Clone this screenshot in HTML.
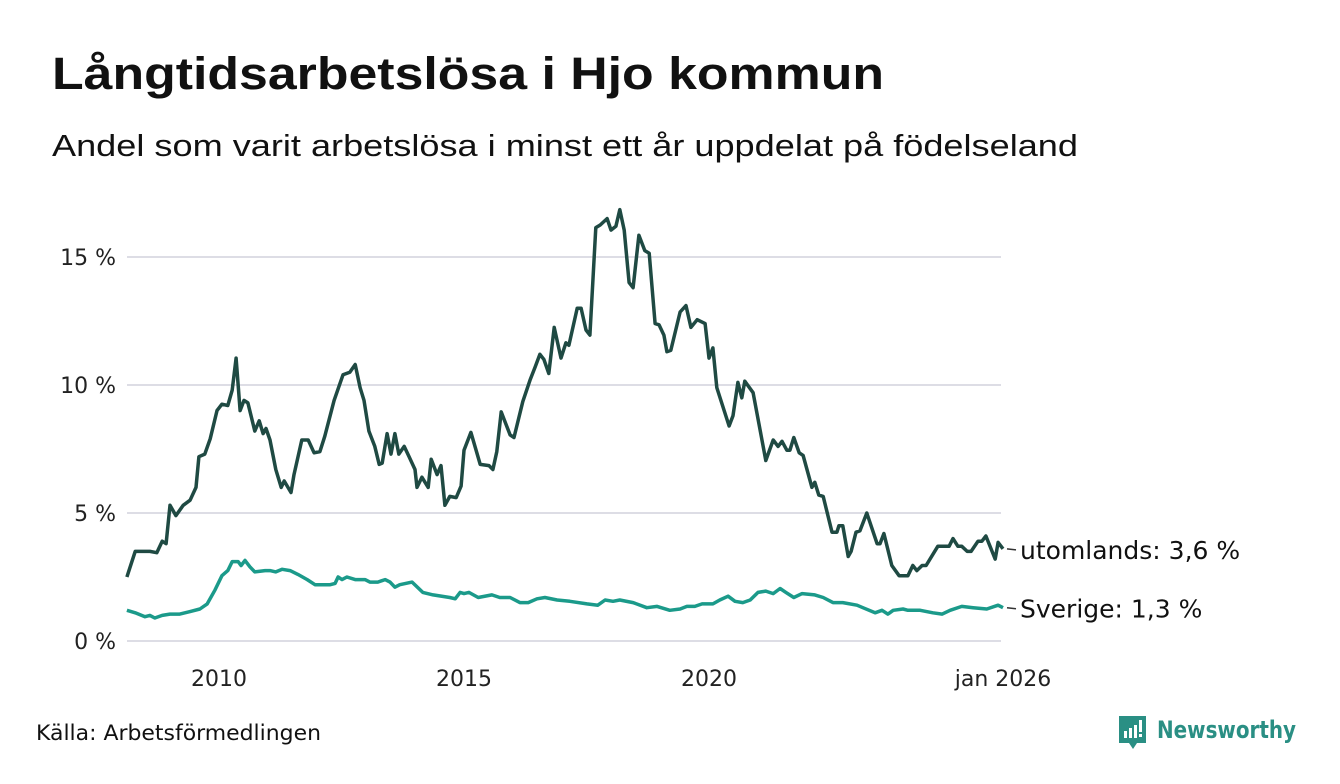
<!DOCTYPE html>
<html><head><meta charset="utf-8"><style>
body{margin:0;background:#fff;width:1340px;height:780px;overflow:hidden;font-family:"DejaVu Sans",sans-serif}
</style></head><body>
<svg width="1340" height="780" font-family="'DejaVu Sans', sans-serif">
<text x="52" y="89" font-size="45" font-weight="bold" fill="#111" textLength="832" lengthAdjust="spacingAndGlyphs" font-family="'Liberation Sans', sans-serif">Långtidsarbetslösa i Hjo kommun</text>
<text x="52" y="156" font-size="31" fill="#111" textLength="1026" lengthAdjust="spacingAndGlyphs" font-family="'Liberation Sans', sans-serif">Andel som varit arbetslösa i minst ett år uppdelat på födelseland</text>
<g id="grid"></g><g id="series"></g><g id="labels"></g>
<text x="36" y="740" font-size="21" fill="#111" textLength="285" lengthAdjust="spacingAndGlyphs">Källa: Arbetsförmedlingen</text>
<g>
<path d="M1119 716h27v27h-9l-4 6-4-6h-10z" fill="#2a8f84"/>
<rect x="1124" y="731" width="3" height="7" fill="#fff"/><rect x="1129" y="728" width="3" height="10" fill="#fff"/><rect x="1134" y="725" width="3" height="13" fill="#fff"/><rect x="1139" y="720" width="3" height="12" fill="#fff"/><rect x="1139" y="734" width="3" height="3" fill="#fff"/>
<text x="1157" y="738" font-size="24" font-weight="bold" fill="#2a8f84" textLength="139" lengthAdjust="spacingAndGlyphs">Newsworthy</text>
</g>
</svg>
<script>
const yTicks=[0,5,10,15];
const yTickLabels=["0 %","5 %","10 %","15 %"];
const xTicks=[2010,2015,2020,2026];
const xTickLabels=["2010","2015","2020","jan 2026"];
const utDates=[2008.12,2008.29,2008.59,2008.73,2008.84,2008.92,2009.00,2009.12,2009.27,2009.41,2009.53,2009.59,2009.71,2009.82,2009.96,2010.06,2010.18,2010.27,2010.35,2010.43,2010.51,2010.59,2010.73,2010.82,2010.90,2010.96,2011.04,2011.16,2011.27,2011.33,2011.47,2011.53,2011.69,2011.82,2011.94,2012.06,2012.16,2012.35,2012.53,2012.67,2012.78,2012.88,2012.96,2013.06,2013.18,2013.27,2013.33,2013.43,2013.51,2013.59,2013.67,2013.78,2013.88,2014.00,2014.04,2014.14,2014.27,2014.33,2014.45,2014.53,2014.61,2014.71,2014.84,2014.94,2015.00,2015.14,2015.33,2015.51,2015.59,2015.67,2015.76,2015.94,2016.02,2016.20,2016.35,2016.45,2016.55,2016.63,2016.73,2016.84,2016.98,2017.08,2017.14,2017.31,2017.39,2017.49,2017.57,2017.69,2017.78,2017.92,2018.00,2018.10,2018.18,2018.27,2018.37,2018.45,2018.57,2018.69,2018.78,2018.90,2018.98,2019.08,2019.14,2019.22,2019.41,2019.53,2019.63,2019.76,2019.92,2020.00,2020.08,2020.16,2020.41,2020.49,2020.59,2020.67,2020.73,2020.90,2021.16,2021.31,2021.41,2021.49,2021.59,2021.65,2021.73,2021.84,2021.92,2022.10,2022.16,2022.24,2022.33,2022.51,2022.61,2022.65,2022.73,2022.84,2022.90,2023.00,2023.08,2023.22,2023.43,2023.49,2023.57,2023.73,2023.88,2024.06,2024.16,2024.24,2024.35,2024.43,2024.67,2024.90,2024.98,2025.08,2025.16,2025.27,2025.35,2025.49,2025.57,2025.65,2025.84,2025.90,2026.00];
const utValues=[2.5,3.5,3.5,3.45,3.9,3.8,5.3,4.9,5.3,5.5,6.0,7.2,7.3,7.9,9.0,9.25,9.2,9.8,11.05,9.0,9.4,9.3,8.2,8.6,8.1,8.3,7.85,6.7,6.0,6.25,5.8,6.5,7.85,7.85,7.35,7.4,8.0,9.4,10.4,10.5,10.8,9.9,9.4,8.2,7.6,6.9,6.95,8.1,7.3,8.1,7.3,7.6,7.2,6.7,6.0,6.4,6.0,7.1,6.5,6.85,5.3,5.65,5.6,6.05,7.45,8.15,6.9,6.85,6.7,7.4,8.95,8.05,7.95,9.35,10.2,10.7,11.2,11.0,10.45,12.25,11.05,11.65,11.55,13.0,13.0,12.15,11.95,16.15,16.25,16.5,16.05,16.2,16.85,16.05,14.0,13.8,15.85,15.25,15.15,12.4,12.35,11.95,11.3,11.35,12.85,13.1,12.25,12.55,12.4,11.05,11.45,9.9,8.4,8.8,10.1,9.5,10.15,9.7,7.05,7.85,7.6,7.8,7.45,7.45,7.95,7.35,7.25,6.0,6.2,5.7,5.65,4.25,4.25,4.5,4.5,3.3,3.5,4.25,4.3,5.0,3.8,3.8,4.2,2.95,2.55,2.55,2.95,2.75,2.95,2.95,3.7,3.7,4.0,3.7,3.7,3.5,3.5,3.9,3.9,4.1,3.2,3.85,3.6];
const svDates=[2008.12,2008.29,2008.49,2008.59,2008.69,2008.84,2009.00,2009.20,2009.41,2009.61,2009.76,2009.92,2010.06,2010.18,2010.27,2010.39,2010.45,2010.53,2010.63,2010.73,2010.94,2011.04,2011.16,2011.29,2011.45,2011.61,2011.80,2011.96,2012.06,2012.27,2012.37,2012.43,2012.51,2012.61,2012.78,2012.98,2013.08,2013.24,2013.39,2013.49,2013.59,2013.69,2013.94,2014.16,2014.37,2014.71,2014.82,2014.92,2015.00,2015.10,2015.29,2015.57,2015.73,2015.94,2016.14,2016.31,2016.49,2016.65,2016.90,2017.16,2017.51,2017.73,2017.88,2018.04,2018.18,2018.45,2018.73,2018.94,2019.20,2019.41,2019.55,2019.71,2019.86,2020.08,2020.22,2020.39,2020.53,2020.69,2020.84,2021.00,2021.16,2021.31,2021.45,2021.57,2021.73,2021.90,2022.16,2022.33,2022.53,2022.73,2023.02,2023.14,2023.39,2023.53,2023.65,2023.76,2023.96,2024.06,2024.31,2024.57,2024.76,2024.92,2025.16,2025.39,2025.67,2025.90,2026.00];
const svValues=[1.2,1.1,0.95,1.0,0.9,1.0,1.05,1.05,1.15,1.25,1.45,2.0,2.55,2.75,3.1,3.1,2.95,3.15,2.9,2.7,2.75,2.75,2.7,2.8,2.75,2.6,2.4,2.2,2.2,2.2,2.25,2.5,2.4,2.5,2.4,2.4,2.3,2.3,2.4,2.3,2.1,2.2,2.3,1.9,1.8,1.7,1.65,1.9,1.85,1.9,1.7,1.8,1.7,1.7,1.5,1.5,1.65,1.7,1.6,1.55,1.45,1.4,1.6,1.55,1.6,1.5,1.3,1.35,1.2,1.25,1.35,1.35,1.45,1.45,1.6,1.75,1.55,1.5,1.6,1.9,1.95,1.85,2.05,1.9,1.7,1.85,1.8,1.7,1.5,1.5,1.4,1.3,1.1,1.2,1.05,1.2,1.25,1.2,1.2,1.1,1.05,1.2,1.35,1.3,1.25,1.4,1.3];
const NS="http://www.w3.org/2000/svg";
const xS=t=>219+(t-2010)*49;
const yS=v=>641-v*25.6;
function mk(tag,attrs,parent){const e=document.createElementNS(NS,tag);for(const k in attrs)e.setAttribute(k,attrs[k]);parent.appendChild(e);return e;}
const grid=document.getElementById('grid');
yTicks.forEach((v,i)=>{
  const l=mk('line',{x1:127,x2:1001,y1:yS(v),y2:yS(v),stroke:'#dddde5','stroke-width':2},grid);
  
  
  const t=mk('text',{x:116,y:yS(v)+8,'text-anchor':'end','font-size':22,fill:'#222'},grid);
  t.textContent=yTickLabels[i];
  
  
});
xTicks.forEach((v,i)=>{
  const t=mk('text',{x:xS(v),y:686,'text-anchor':'middle','font-size':22,fill:'#222'},grid);
  t.textContent=xTickLabels[i];
  
  
});
const ser=document.getElementById('series');
function line(d,v,c,name){
  const p=mk('path',{d:d.map((t,i)=>(i?'L':'M')+xS(t).toFixed(1)+' '+yS(v[i]).toFixed(1)).join(''),fill:'none',stroke:c,'stroke-width':3.5,'stroke-linejoin':'round'},ser);
  
  
}
line(svDates,svValues,'#1b9a8a','line-sverige');
line(utDates,utValues,'#1f4a43','line-utomlands');
const lab=document.getElementById('labels');
function label(d,v,txt,name){
  const t=d[d.length-1],val=v[v.length-1];
  mk('line',{x1:xS(t)+4,x2:xS(t)+13,y1:yS(val),y2:yS(val)+1,stroke:'#333','stroke-width':1.5},lab);
  const e=mk('text',{x:xS(t)+17,y:yS(val)+10,'font-size':25,fill:'#111'},lab);
  e.textContent=txt;
  
  
}
label(utDates,utValues,'utomlands: 3,6 %','label-utomlands');
label(svDates,svValues,'Sverige: 1,3 %','label-sverige');
</script>
</body></html>
